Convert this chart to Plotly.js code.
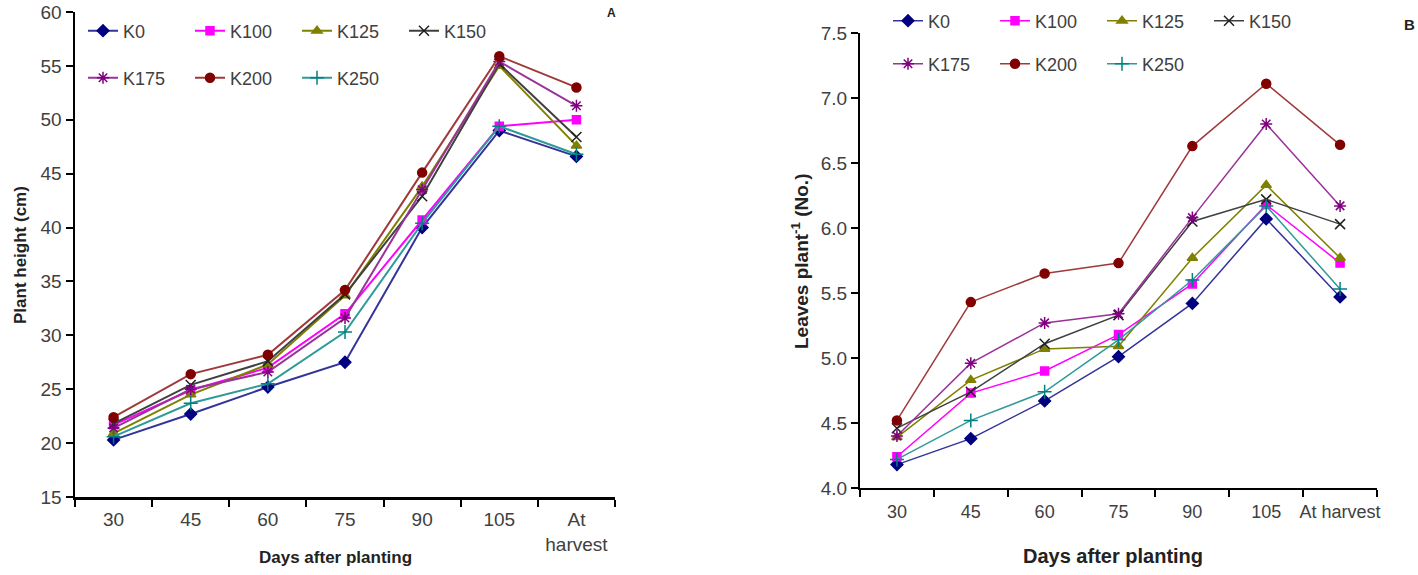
<!DOCTYPE html>
<html>
<head>
<meta charset="utf-8">
<script src="https://cdn.plot.ly/plotly-3.0.1.min.js"></script>
<style>
    html, body { margin: 0; padding: 0; background: #fff; }
    #growth-charts { width: 1418px; height: 575px; }
</style>
</head>
<body>
<div id="growth-charts"></div>
<script>
    'use strict';

    // sampling days (x categories)
    var days = ['30', '45', '60', '75', '90', '105', 'At harvest'];
    var daysLabelsA = ['30', '45', '60', '75', '90', '105', 'At<br>harvest'];
    var treatments = ['K0', 'K100', 'K125', 'K150', 'K175', 'K200', 'K250'];

    // panel A - plant height (cm)
    var heightK0 = [20.3, 22.7, 25.2, 27.5, 40.0, 49.0, 46.6];
    var heightK100 = [21.7, 24.9, 27.0, 32.0, 40.7, 49.4, 50.0];
    var heightK125 = [20.9, 24.5, 27.3, 33.7, 43.8, 55.0, 47.6];
    var heightK150 = [21.8, 25.4, 27.6, 33.8, 42.9, 55.2, 48.4];
    var heightK175 = [21.4, 25.0, 26.6, 31.6, 43.5, 55.4, 51.3];
    var heightK200 = [22.4, 26.4, 28.2, 34.2, 45.1, 55.9, 53.0];
    var heightK250 = [20.6, 23.7, 25.5, 30.3, 40.4, 49.4, 46.8];

    // panel B - leaves per plant
    var leavesK0 = [4.18, 4.38, 4.67, 5.01, 5.42, 6.07, 5.47];
    var leavesK100 = [4.24, 4.73, 4.90, 5.18, 5.57, 6.18, 5.73];
    var leavesK125 = [4.39, 4.83, 5.07, 5.09, 5.77, 6.33, 5.77];
    var leavesK150 = [4.46, 4.74, 5.11, 5.33, 6.05, 6.22, 6.03];
    var leavesK175 = [4.40, 4.96, 5.27, 5.34, 6.08, 6.80, 6.17];
    var leavesK200 = [4.52, 5.43, 5.65, 5.73, 6.63, 7.11, 6.64];
    var leavesK250 = [4.22, 4.52, 4.74, 5.14, 5.60, 6.17, 5.53];

    var heightSeries = [heightK0, heightK100, heightK125, heightK150, heightK175, heightK200, heightK250];
    var leavesSeries = [leavesK0, leavesK100, leavesK125, leavesK150, leavesK175, leavesK200, leavesK250];

    var styles = {
        K0: { line: '#33339a', marker: '#000080', symbol: 'diamond', size: 9 },
        K100: { line: '#ff00ff', marker: '#ff00ff', symbol: 'square', size: 8 },
        K125: { line: '#808000', marker: '#808000', symbol: 'triangle-up', size: 9 },
        K150: { line: '#404040', marker: '#202020', symbol: 'x-thin-open', size: 10 },
        K175: { line: '#993399', marker: '#800080', symbol: 'asterisk-open', size: 10 },
        K200: { line: '#a03a3a', marker: '#800000', symbol: 'circle', size: 9 },
        K250: { line: '#2f9a9a', marker: '#008080', symbol: 'cross-thin-open', size: 10 }
    };

    var FONT = 'Liberation Sans, Arial, sans-serif';

    function makeTraces(series, xaxis, yaxis, legendTop, legendBottom, lineWidth) {
        var traces = [];

        treatments.forEach(function (name, i) {
            var s = styles[name];
            traces.push({
                x: days,
                y: series[i],
                name: name,
                xaxis: xaxis,
                yaxis: yaxis,
                type: 'scatter',
                mode: 'lines+markers',
                legend: i < 4 ? legendTop : legendBottom,
                line: { color: s.line, width: lineWidth },
                marker: {
                    symbol: s.symbol,
                    size: s.size,
                    color: s.marker,
                    line: { color: s.marker, width: 1.5 }
                }
            });
        });

        return traces;
    }

    var data = []
        .concat(makeTraces(heightSeries, 'x', 'y', 'legend', 'legend2', 2))
        .concat(makeTraces(leavesSeries, 'x2', 'y2', 'legend3', 'legend4', 1.5));

    function legendRow(x, y) {
        return {
            orientation: 'h',
            x: x,
            y: y,
            xanchor: 'left',
            yanchor: 'middle',
            entrywidth: 62,
            bgcolor: 'rgba(0,0,0,0)',
            font: { family: FONT, size: 18, color: '#404040' },
            itemclick: false
        };
    }

    var axisBase = {
        ticks: 'outside',
        ticklen: 7,
        tickwidth: 2,
        tickcolor: '#000',
        tickangle: 0,
        showline: true,
        linecolor: '#000',
        showgrid: false,
        zeroline: false,
        fixedrange: true,
        tickfont: { family: FONT, size: 19, color: '#404040' }
    };

    function axis(extra) {
        var out = {};
        Object.keys(axisBase).forEach(function (k) { out[k] = axisBase[k]; });
        Object.keys(extra).forEach(function (k) { out[k] = extra[k]; });
        return out;
    }

    function label(text, x, y, size, angle) {
        return {
            text: text,
            xref: 'paper', yref: 'paper',
            x: x / 1418, y: 1 - y / 575,
            xanchor: 'center', yanchor: 'middle',
            textangle: angle || 0,
            showarrow: false,
            font: { family: FONT, size: size, color: '#222' }
        };
    }

    var layout = {
        width: 1418,
        height: 575,
        margin: { l: 0, r: 0, t: 0, b: 0 },
        paper_bgcolor: '#fff',
        plot_bgcolor: '#fff',
        showlegend: true,
        xaxis: axis({
            type: 'category',
            range: [-0.5, 6.5],
            tickson: 'boundaries',
            domain: [75 / 1418, 615 / 1418],
            anchor: 'y',
            linewidth: 2.5,
            ticklabelstandoff: 4,
            tickvals: days,
            ticktext: daysLabelsA
        }),
        yaxis: axis({
            domain: [1 - 497 / 575, 1 - 12 / 575],
            anchor: 'x',
            range: [15, 60],
            dtick: 5,
            linewidth: 2.5
        }),
        xaxis2: axis({
            type: 'category',
            range: [-0.5, 6.5],
            tickson: 'boundaries',
            domain: [860 / 1418, 1377 / 1418],
            anchor: 'y2',
            linewidth: 2,
            ticklabelstandoff: 6,
            tickfont: { family: FONT, size: 18, color: '#404040' }
        }),
        yaxis2: axis({
            domain: [1 - 488 / 575, 1 - 33 / 575],
            anchor: 'x2',
            range: [4, 7.5],
            dtick: 0.5,
            tickformat: '.1f',
            linewidth: 2
        }),
        legend: legendRow(83 / 1418, 1 - 31 / 575),
        legend2: legendRow(83 / 1418, 1 - 78 / 575),
        legend3: legendRow(888 / 1418, 1 - 21 / 575),
        legend4: legendRow(888 / 1418, 1 - 64 / 575),
        annotations: [
            label('<b>Plant height (cm)</b>', 20, 255, 17, -90),
            label('<b>Days after planting</b>', 335, 557, 17),
            label('<b>Leaves plant<sup>-1</sup> (No.)</b>', 800, 262, 19, -90),
            label('<b>Days after planting</b>', 1113, 556, 20),
            label('<b>A</b>', 611, 13, 12),
            label('<b>B</b>', 1409, 25, 15)
        ]
    };

    Plotly.newPlot('growth-charts', data, layout, { displayModeBar: false, staticPlot: true });
</script>
</body>
</html>
